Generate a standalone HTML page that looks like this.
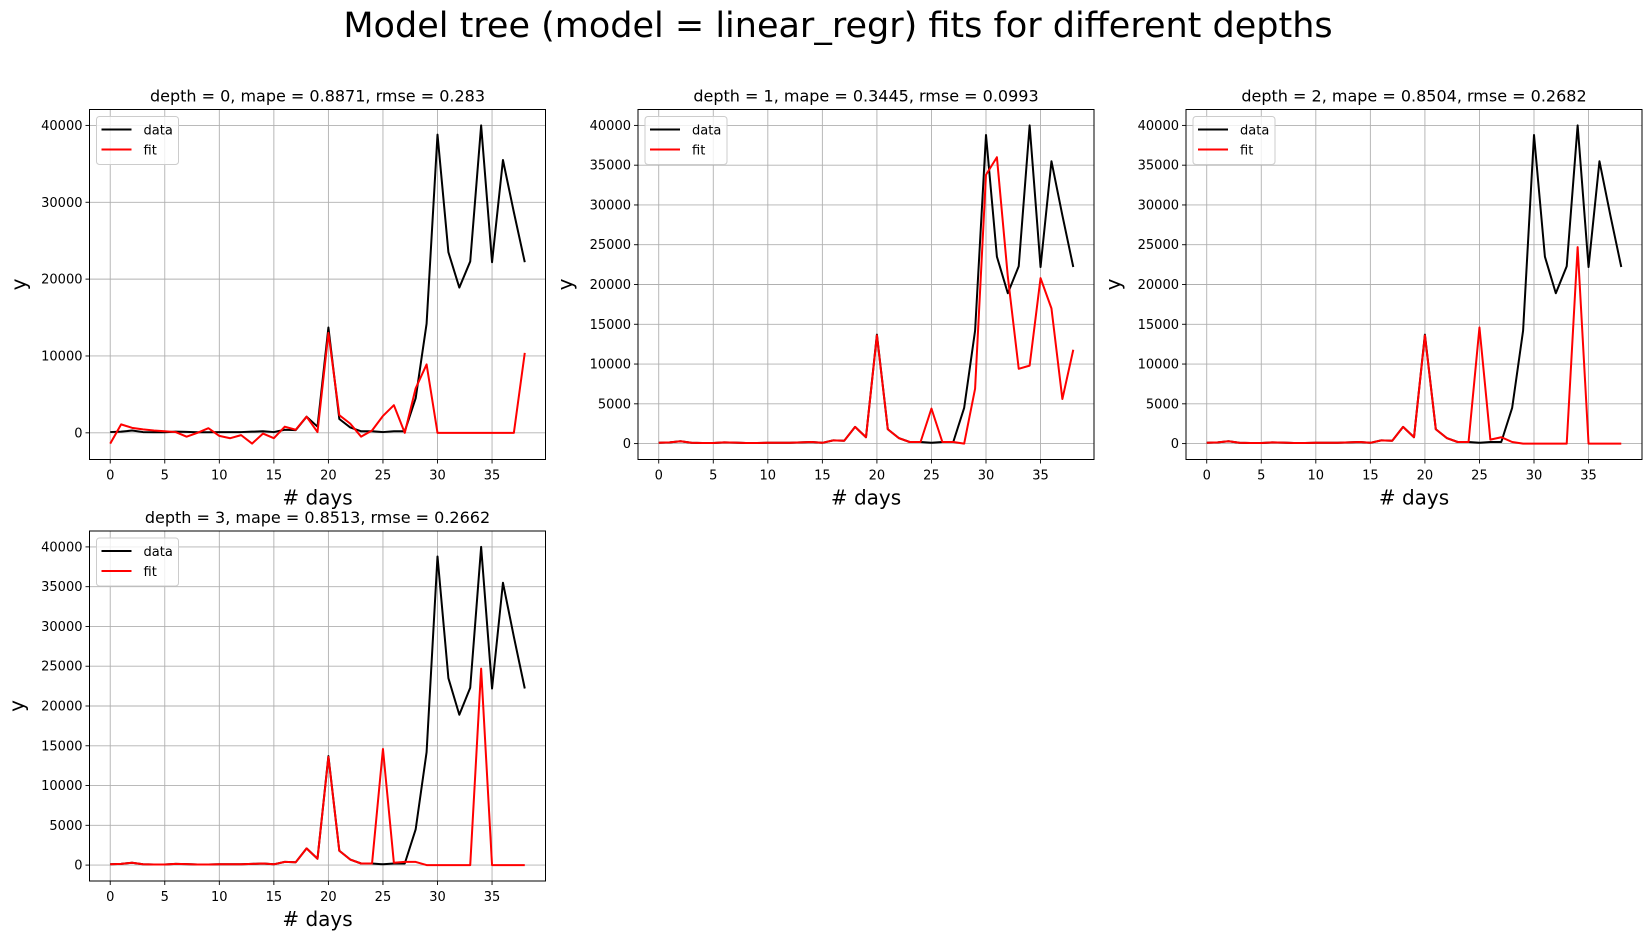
<!DOCTYPE html>
<html><head><meta charset="utf-8"><style>
body{margin:0;background:#fff;}
svg{display:block;font-family:"DejaVu Sans","Liberation Sans",sans-serif;}
</style></head><body>
<svg id="fig" width="1649" height="939" viewBox="0 0 1649 939">
<text x="838" y="37" font-size="35" text-anchor="middle">Model tree (model = linear_regr) fits for different depths</text>
</svg>
<script>
const days = [0,1,2,3,4,5,6,7,8,9,10,11,12,13,14,15,16,17,18,19,20,21,22,23,24,25,26,27,28,29,30,31,32,33,34,35,36,37,38];
const dataSeries = [100,150,300,100,80,80,150,120,80,80,100,100,100,150,200,100,400,350,2100,800,13700,1800,700,200,200,100,200,200,4500,14200,38800,23500,18900,22300,40000,22200,35500,28700,22200];
const fitDepth0 = [-1400,1100,650,450,300,200,100,-500,0,600,-400,-700,-300,-1400,-100,-700,800,400,2100,100,13000,2300,1200,-500,300,2200,3600,0,5800,8900,0,0,0,0,0,0,0,0,10400];
const fitDepth1 = [100,150,300,100,80,80,150,120,80,80,100,100,100,150,200,100,400,350,2100,800,13600,1800,700,200,200,4400,200,200,0,6900,33800,36000,21000,9400,9800,20800,17000,5600,11800];
const fitDepth2 = [100,150,300,100,80,80,150,120,80,80,100,100,100,150,200,100,400,350,2100,800,13600,1800,700,200,200,14600,500,800,200,0,0,0,0,0,24700,0,0,0,0];
const fitDepth3 = [100,150,300,100,80,80,150,120,80,80,100,100,100,150,200,100,400,350,2100,800,13600,1800,700,200,200,14600,300,400,400,0,0,0,0,0,24700,0,0,0,0];
const titles = ["depth = 0, mape = 0.8871, rmse = 0.283","depth = 1, mape = 0.3445, rmse = 0.0993","depth = 2, mape = 0.8504, rmse = 0.2682","depth = 3, mape = 0.8513, rmse = 0.2662"];
const xTicks = [0,5,10,15,20,25,30,35];
const yTicksWide = [0,10000,20000,30000,40000];
const yTicksFine = [0,5000,10000,15000,20000,25000,30000,35000,40000];

const NS="http://www.w3.org/2000/svg";
const fig=document.getElementById('fig');
function mk(tag,attrs,parent){const e=document.createElementNS(NS,tag);for(const k in attrs)e.setAttribute(k,attrs[k]);(parent||fig).appendChild(e);return e;}

const panels=[
 {x:89.5,y:109.5,fit:fitDepth0,ticks:yTicksWide},
 {x:638,y:109.5,fit:fitDepth1,ticks:yTicksFine},
 {x:1186,y:109.5,fit:fitDepth2,ticks:yTicksFine},
 {x:89.5,y:531,fit:fitDepth3,ticks:yTicksFine}
];
const W=456,H=350;
panels.forEach((p,i)=>{
  const g=mk('g',{});
  
  
  const all=dataSeries.concat(p.fit);
  let mn=Math.min(...all),mx=Math.max(...all);
  const pad=(mx-mn)*0.05; mn-=pad; mx+=pad;
  const x0=-1.9,x1=39.9;
  const sx=v=>p.x+(v-x0)/(x1-x0)*W;
  const sy=v=>p.y+H-(v-mn)/(mx-mn)*H;
  xTicks.forEach(t=>{
    const X=sx(t);
    const gl=mk('line',{x1:X,x2:X,y1:p.y,y2:p.y+H,stroke:'#b0b0b0','stroke-width':0.9},g);
    
    
    mk('line',{x1:X,x2:X,y1:p.y+H,y2:p.y+H+4,stroke:'#000','stroke-width':0.9},g);
    const tl=mk('text',{x:X,y:p.y+H+20,'font-size':13,'text-anchor':'middle'},g);
    tl.textContent=t;
    
    
  });
  p.ticks.forEach(t=>{
    const Y=sy(t);
    const gl=mk('line',{x1:p.x,x2:p.x+W,y1:Y,y2:Y,stroke:'#b0b0b0','stroke-width':0.9},g);
    
    
    mk('line',{x1:p.x-4,x2:p.x,y1:Y,y2:Y,stroke:'#000','stroke-width':0.9},g);
    const tl=mk('text',{x:p.x-7,y:Y+4.5,'font-size':13,'text-anchor':'end'},g);
    tl.textContent=t;
    
    
  });
  const dl=mk('polyline',{points:days.map((d,k)=>sx(d)+','+sy(dataSeries[k])).join(' '),fill:'none',stroke:'#000','stroke-width':2,'stroke-linejoin':'round'},g);
  
  
  const fl=mk('polyline',{points:days.map((d,k)=>sx(d)+','+sy(p.fit[k])).join(' '),fill:'none',stroke:'#ff0000','stroke-width':2,'stroke-linejoin':'round'},g);
  
  
  mk('rect',{x:p.x,y:p.y,width:W,height:H,fill:'none',stroke:'#000','stroke-width':1},g);
  const tt=mk('text',{x:p.x+W/2,y:p.y-8,'font-size':16,'text-anchor':'middle'},g);
  tt.textContent=titles[i];
  
  
  const xl=mk('text',{x:p.x+W/2,y:p.y+H+45,'font-size':20,'text-anchor':'middle'},g);
  xl.textContent='# days';
  
  
  const ylx=p.x-(i===0?64:66);
  const yl=mk('text',{x:ylx,y:p.y+H/2,'font-size':20,'text-anchor':'middle',transform:'rotate(-90 '+ylx+' '+(p.y+H/2)+')'},g);
  yl.textContent='y';
  
  
  const lg=mk('g',{},g);
  
  
  mk('rect',{x:p.x+7,y:p.y+7,width:82,height:48,rx:3,fill:'#fff','fill-opacity':0.8,stroke:'#ccc','stroke-width':1},lg);
  [['data','#000'],['fit','#ff0000']].forEach((e,k)=>{
    const yy=p.y+20+k*20;
    const ln=mk('line',{x1:p.x+12,x2:p.x+42,y1:yy,y2:yy,stroke:e[1],'stroke-width':2},lg);
    
    
    const t=mk('text',{x:p.x+54,y:yy+5,'font-size':13},lg);
    t.textContent=e[0];
    
    
  });
});
</script>
</body></html>
